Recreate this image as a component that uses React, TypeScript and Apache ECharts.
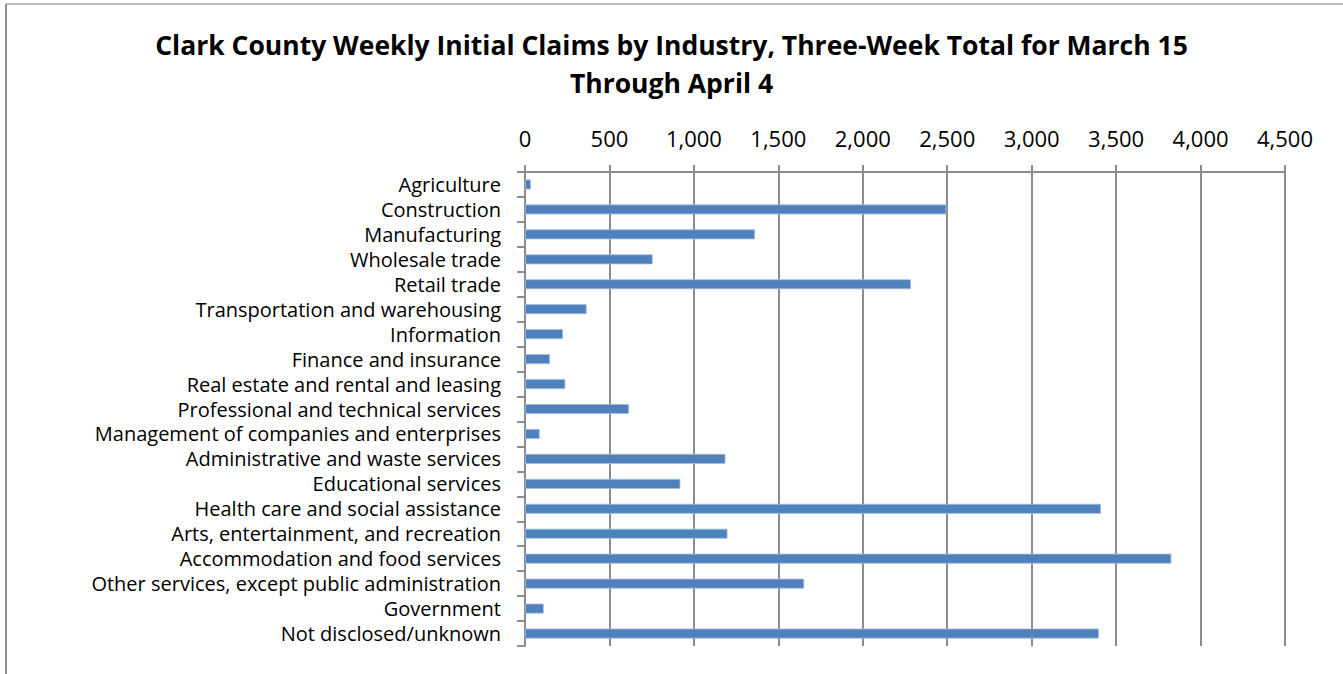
import React, { useEffect, useRef } from "react";
import * as echarts from "echarts";

const categories = [
  "Agriculture",
  "Construction",
  "Manufacturing",
  "Wholesale trade",
  "Retail trade",
  "Transportation and warehousing",
  "Information",
  "Finance and insurance",
  "Real estate and rental and leasing",
  "Professional and technical services",
  "Management of companies and enterprises",
  "Administrative and waste services",
  "Educational services",
  "Health care and social assistance",
  "Arts, entertainment, and recreation",
  "Accommodation and food services",
  "Other services, except public administration",
  "Government",
  "Not disclosed/unknown",
];

const claims = [35, 2495, 1362, 756, 2285, 365, 225, 148, 239, 616, 87, 1187, 920, 3410, 1199, 3827, 1653, 111, 3398];

const titleText = "Clark County Weekly Initial Claims by Industry, Three-Week Total for March 15\nThrough April 4";

const FONT = "'Open Sans', 'Noto Sans', sans-serif";

export default function App() {
  const ref = useRef<HTMLDivElement>(null);
  useEffect(() => {
    if (!ref.current) return;
    const chart = echarts.init(ref.current, null, { renderer: "svg" });
    chart.setOption({
      animation: false,
      backgroundColor: "#ffffff",
      title: {
        text: titleText,
        left: "center",
        top: 21,
        textStyle: {
          fontFamily: FONT,
          fontSize: 26.5,
          fontWeight: "bold",
          color: "#000",
          lineHeight: 38,
        },
      },
      graphic: [
        { type: "line", shape: { x1: 6, y1: 4, x2: 6, y2: 674 }, style: { stroke: "#8c8c8c", lineWidth: 2 } },
        { type: "line", shape: { x1: 6, y1: 4, x2: 1343, y2: 4 }, style: { stroke: "#a6a6a6", lineWidth: 1.5 } },
      ],
      grid: { left: 525, right: 58, top: 172, bottom: 28, containLabel: false },
      xAxis: {
        type: "value",
        position: "top",
        min: 0,
        max: 4500,
        interval: 500,
        axisLine: { show: true, lineStyle: { color: "#8c8c8c", width: 2 } },
        axisTick: { show: true, length: 7, lineStyle: { color: "#8c8c8c", width: 2 } },
        splitLine: { show: true, lineStyle: { color: "#8c8c8c", width: 2 } },
        axisLabel: {
          fontFamily: FONT,
          fontSize: 22,
          lineHeight: 22,
          color: "#000",
          margin: 23,
          formatter: (v: number) => v.toLocaleString("en-US"),
        },
      },
      yAxis: {
        type: "category",
        data: categories,
        inverse: true,
        axisLine: { show: true, lineStyle: { color: "#8c8c8c", width: 2 } },
        axisTick: { show: true, length: 8, lineStyle: { color: "#8c8c8c", width: 2 } },
        axisLabel: {
          fontFamily: FONT,
          fontSize: 20,
          color: "#000",
          margin: 24,
          interval: 0,
        },
      },
      series: [
        {
          type: "bar",
          data: claims,
          barWidth: 10,
          itemStyle: { color: "#4f81bd", borderColor: "#a7bfdf", borderWidth: 0.8 },
        },
      ],
    });
    return () => chart.dispose();
  }, []);
  return <div ref={ref} style={{ width: 1343, height: 674, position: "absolute", left: 0, top: 0 }} />;
}
